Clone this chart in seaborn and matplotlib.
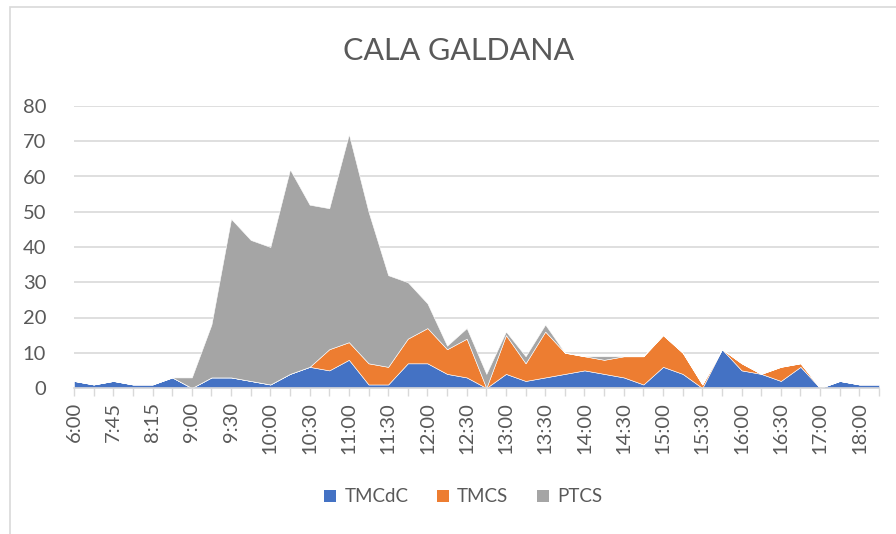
import matplotlib
matplotlib.use("Agg")
import matplotlib.pyplot as plt
import seaborn as sns
import pandas as pd
import numpy as np
from matplotlib.patches import Rectangle, Patch

times = ["6:00", "7:30", "7:45", "8:00", "8:15", "8:30", "9:00", "9:15", "9:30", "9:45",
         "10:00", "10:15", "10:30", "10:45", "11:00", "11:15", "11:30", "11:45", "12:00", "12:15",
         "12:30", "12:45", "13:00", "13:15", "13:30", "13:45", "14:00", "14:15", "14:30", "14:45",
         "15:00", "15:15", "15:30", "15:45", "16:00", "16:15", "16:30", "16:45", "17:00", "17:30",
         "18:00", "18:30"]
tmcdc = [2, 1, 2, 1, 1, 3, 0, 3, 3, 2, 1, 4, 6, 5, 8, 1, 1, 7, 7, 4, 3, 0, 4, 2, 3, 4, 5, 4, 3, 1,
         6, 4, 0, 11, 5, 4, 2, 6, 0, 2, 1, 1]
tmcs = [0, 0, 0, 0, 0, 0, 0, 0, 0, 0, 0, 0, 0, 6, 5, 6, 5, 7, 10, 7, 11, 0, 11, 5, 13, 6, 4, 4, 6, 8,
        9, 6, 1, 0, 2, 0, 4, 1, 0, 0, 0, 0]
ptcs = [0, 0, 0, 0, 0, 0, 3, 15, 45, 40, 39, 58, 46, 40, 59, 43, 26, 16, 7, 1, 3, 4, 1, 2, 2, 0, 0, 1, 0, 0,
        0, 0, 0, 0, 0, 0, 0, 0, 0, 0, 0, 0]
series_names = ["TMCdC", "TMCS", "PTCS"]
colors = ["#4472C4", "#ED7D31", "#A5A5A5"]

df = pd.DataFrame({"time": times, "TMCdC": tmcdc, "TMCS": tmcs, "PTCS": ptcs})
df["pos"] = np.arange(len(df))

sns.set_theme(style="white")
plt.rcParams["font.family"] = ["Lato", "DejaVu Sans"]
txt = "#595959"
grid = "#D9D9D9"

fig = plt.figure(figsize=(8.96, 5.34), dpi=100)
ax = fig.add_axes([74 / 896, 1 - 388 / 534, (879 - 74) / 896, (388 - 106) / 534])

ax.stackplot(df["pos"], df["TMCdC"], df["TMCS"], df["PTCS"], colors=colors,
             edgecolor="white", linewidth=0.4, zorder=3)

ax.set_xlim(0, len(df) - 1)
ax.set_ylim(0, 80)
ax.set_yticks(range(0, 81, 10))
ax.yaxis.grid(True, color=grid, linewidth=1.2, zorder=0)
ax.tick_params(axis="y", length=0, labelsize=14.5, labelcolor=txt, pad=20)
ax.set_xticks(df["pos"])
ax.set_xticklabels([t if i % 2 == 0 else "" for i, t in enumerate(times)],
                   rotation=90, fontsize=14.5, color=txt)
ax.tick_params(axis="x", length=6, width=1, color=grid, pad=4, bottom=True)
for s in ["top", "right", "left"]:
    ax.spines[s].set_visible(False)
ax.spines["bottom"].set_color(grid)
ax.spines["bottom"].set_linewidth(1.2)
ax.spines["bottom"].set_zorder(4)
ax.set_xlabel("")
ax.set_ylabel("")

fig.text(459 / 896, 1 - 51 / 534, "CALA GALDANA", ha="center", va="center",
         fontsize=22, color=txt)

handles = [Patch(facecolor=c, edgecolor="none") for c in colors]
fig.legend(handles, series_names, loc="center", bbox_to_anchor=(463 / 896, 1 - 497 / 534),
           ncol=3, frameon=False, fontsize=13.5, labelcolor=txt, handlelength=0.65,
           handleheight=0.65, handletextpad=0.45, columnspacing=1.5)

fig.patches.append(Rectangle((10 / 896, -0.1), 1.2, 1 - 7 / 534 + 0.1, transform=fig.transFigure,
                             fill=False, edgecolor=grid, linewidth=1.2))

fig.savefig("out.png", dpi=100, facecolor="white")
